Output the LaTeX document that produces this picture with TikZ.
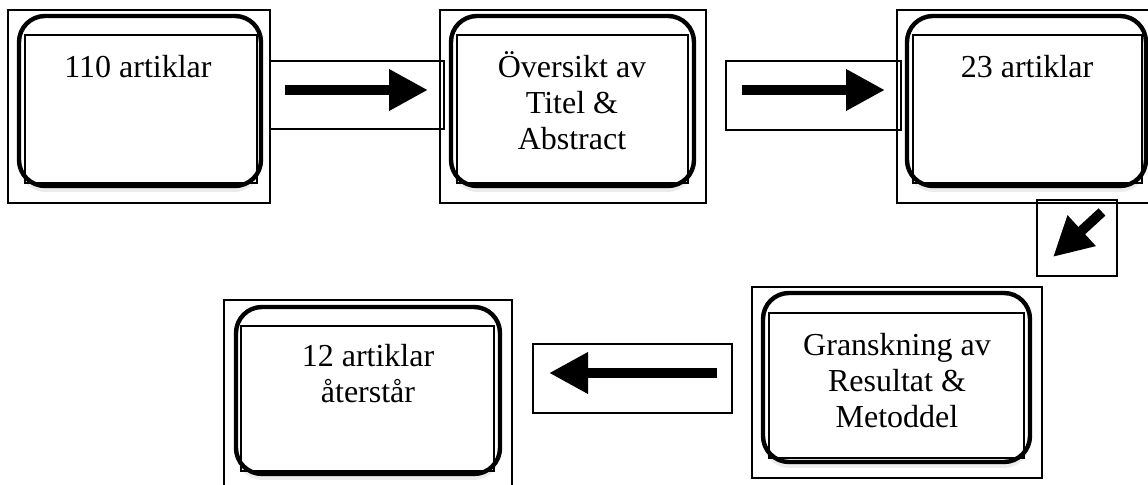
\documentclass[tikz,border=0pt]{standalone}
\usepackage{fontspec}
\setmainfont{Liberation Serif}
\usetikzlibrary{arrows.meta,shadows}

\tikzset{
	frame/.style={draw, line width=0.6pt},
	rbox/.style={draw, line width=2.2pt, rounded corners=13pt, fill=white,
		drop shadow={opacity=0.15, shadow xshift=0pt, shadow yshift=-3pt}},
	lbl/.style={font=\fontsize{16}{18}\selectfont, align=center, inner sep=0pt, anchor=base},
	blockarrow/.style={line width=5pt, -{Triangle[length=19.5pt, width=19.5pt]}}
}

\begin{document}
\begin{tikzpicture}[x=0.5pt, y=-0.5pt]
	\useasboundingbox (0,0) rectangle (1148,485);
	% 110 artiklar
	\draw[frame] (8,10) rectangle (270,203);
	\draw[rbox] (19,16) rectangle (261,186);
	\draw[frame] (25,35) rectangle (257,183);
	\node[lbl] (start) at (138,78) {110 artiklar};
	% titel och abstract
	\draw[frame] (440,10) rectangle (706,203);
	\draw[rbox] (451,16) rectangle (694,186);
	\draw[frame] (457,35) rectangle (688,183);
	\node[lbl] (oversikt) at (572,150) {Översikt av\\Titel \&\\Abstract};
	% 23 artiklar
	\draw[frame] (897,10) rectangle (1170,203);
	\draw[rbox] (907,16) rectangle (1146,186);
	\draw[frame] (913,35) rectangle (1142,183);
	\node[lbl] (mitt) at (1027,78) {23 artiklar};
	% resultat och metod
	\draw[frame] (752,287) rectangle (1042,478);
	\draw[rbox] (763,293) rectangle (1030,462);
	\draw[frame] (769,313) rectangle (1024,458);
	\node[lbl] (granskning) at (897,428) {Granskning av\\Resultat \&\\Metoddel};
	% 12 artiklar
	\draw[frame] (224,300) rectangle (512,500);
	\draw[rbox] (236,307) rectangle (500,474);
	\draw[frame] (241,326) rectangle (494,471);
	\node[lbl] (slut) at (368,403) {12 artiklar\\återstår};

	%arrows
	\coordinate (a1s) at (285,90);
	\coordinate (a1e) at (428,90);
	\coordinate (a2s) at (742,90);
	\coordinate (a2e) at (885,90);
	\coordinate (a3s) at (1102,212);
	\coordinate (a3e) at (1053,257);
	\coordinate (a4s) at (717,373);
	\coordinate (a4e) at (549,373);
	\draw[frame] (270,61) rectangle (444,129);
	\draw[blockarrow] (a1s) -- (a1e);
	\draw[frame] (726,61) rectangle (901,130);
	\draw[blockarrow] (a2s) -- (a2e);
	\draw[frame] (1037,200) rectangle (1117,276);
	\draw[blockarrow] (a3s) -- (a3e);
	\draw[frame] (533,344) rectangle (732,413);
	\draw[blockarrow] (a4s) -- (a4e);
\end{tikzpicture}
\end{document}
